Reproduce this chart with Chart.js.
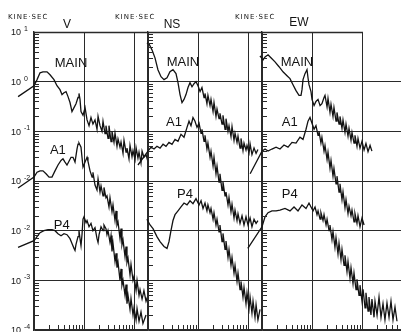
<!DOCTYPE html>
<html>
<head>
<meta charset="utf-8">
<script src="https://cdn.jsdelivr.net/npm/chart.js@4.4.1/dist/chart.umd.min.js"></script>
<style>
  html, body { margin: 0; padding: 0; background: #fff; width: 401px; height: 332px; overflow: hidden; }
  canvas { position: absolute; top: 0; }
</style>
</head>
<body>
<canvas id="panelV"  style="left:0px"   width="150" height="340"></canvas>
<canvas id="panelNS" style="left:108px" width="156" height="340"></canvas>
<canvas id="panelEW" style="left:222px" width="190" height="340"></canvas>
<script>
// Fourier spectra, [frequency Hz, amplitude kine·sec]
const vMain = [[0.048,0.50],[0.1,0.83],[0.115,1.10],[0.132,1.51],[0.151,1.58],[0.182,1.58],[0.209,1.38],[0.251,1.10],[0.288,0.83],[0.331,0.69],[0.363,0.55],[0.398,0.60],[0.437,0.63],[0.479,0.50],[0.525,0.38],[0.575,0.25],[0.631,0.30],[0.692,0.36],[0.759,0.48],[0.794,0.58],[0.832,0.44],[0.871,0.25],[0.955,0.21],[1.05,0.30],[1.15,0.17],[1.26,0.13],[1.38,0.19],[1.51,0.14],[1.66,0.17],[1.82,0.11],[1.91,0.20],[2.09,0.13],[2.29,0.10],[2.40,0.16],[2.63,0.09],[2.75,0.13],[3.02,0.072],[3.16,0.13],[3.47,0.062],[3.63,0.10],[3.98,0.060],[4.17,0.092],[4.57,0.050],[4.79,0.070],[5.25,0.048],[5.50,0.061],[6.03,0.036],[6.31,0.066],[6.92,0.038],[7.24,0.046],[7.94,0.028],[8.32,0.052],[9.12,0.031],[9.55,0.041],[10.5,0.027],[11.0,0.047],[12.0,0.029],[12.6,0.038],[13.8,0.023],[14.5,0.040],[15.8,0.030],[17.4,0.034],[19.1,0.024]];
const vA1 = [[0.048,0.0072],[0.1,0.012],[0.115,0.015],[0.132,0.016],[0.151,0.016],[0.174,0.014],[0.200,0.012],[0.229,0.012],[0.263,0.016],[0.302,0.021],[0.347,0.026],[0.380,0.028],[0.417,0.024],[0.457,0.021],[0.501,0.025],[0.550,0.030],[0.603,0.030],[0.661,0.024],[0.724,0.044],[0.759,0.055],[0.794,0.058],[0.871,0.048],[0.912,0.030],[0.955,0.019],[1.05,0.024],[1.15,0.030],[1.20,0.025],[1.32,0.016],[1.45,0.012],[1.51,0.015],[1.66,0.0083],[1.82,0.0066],[1.91,0.011],[2.09,0.0060],[2.19,0.0080],[2.40,0.0050],[2.51,0.0074],[2.75,0.0046],[2.88,0.0050],[3.16,0.0030],[3.31,0.0046],[3.63,0.0024],[3.80,0.0033],[4.17,0.0016],[4.37,0.0025],[4.57,0.0013],[4.79,0.0015],[5.25,7.0e-4],[5.50,1.1e-3],[5.75,5.2e-4],[6.03,6.5e-4],[6.61,3.0e-4],[6.92,4.8e-4],[7.24,2.3e-4],[7.59,2.8e-4],[8.32,1.3e-4],[8.71,2.1e-4],[9.55,1.0e-4],[10.0,1.2e-4],[11.0,6.3e-5],[11.5,1.0e-4],[12.6,5.0e-5],[13.2,6.5e-5],[14.5,4.2e-5],[15.8,6.2e-5],[17.4,3.8e-5],[19.1,5.0e-5]];
const vP4 = [[0.048,4.6e-3],[0.1,6.3e-3],[0.115,7.6e-3],[0.132,9.1e-3],[0.158,1.0e-2],[0.191,1.05e-2],[0.229,1.05e-2],[0.263,1.0e-2],[0.302,8.7e-3],[0.347,7.9e-3],[0.398,8.7e-3],[0.457,8.3e-3],[0.525,6.9e-3],[0.575,5.5e-3],[0.631,4.4e-3],[0.661,4.0e-3],[0.692,5.3e-3],[0.759,7.6e-3],[0.794,1.0e-2],[0.832,6.9e-3],[0.871,5.0e-3],[0.912,8.3e-3],[0.955,1.7e-2],[1.0,1.9e-2],[1.10,1.45e-2],[1.15,1.6e-2],[1.26,1.2e-2],[1.38,1.4e-2],[1.51,1.0e-2],[1.66,1.15e-2],[1.82,6.9e-3],[1.91,5.8e-3],[2.00,8.3e-3],[2.19,1.2e-2],[2.40,1.0e-2],[2.51,1.3e-2],[2.75,1.1e-2],[2.88,8.3e-3],[3.02,1.0e-2],[3.31,5.8e-3],[3.47,8.0e-3],[3.63,3.8e-3],[3.80,5.6e-3],[4.17,2.4e-3],[4.37,3.5e-3],[4.57,1.8e-3],[4.79,2.3e-3],[5.25,1.0e-3],[5.50,1.7e-3],[5.75,8.0e-4],[6.03,1.0e-3],[6.61,5.0e-4],[6.92,8.2e-4],[7.24,3.4e-4],[7.59,5.0e-4],[8.32,2.6e-4],[8.71,4.3e-4],[9.55,2.0e-4],[10.0,2.8e-4],[11.0,1.6e-4],[11.5,2.7e-4],[12.6,1.5e-4],[13.8,2.3e-4],[15.1,1.35e-4],[17.4,2.0e-4]];

const nsMain = [[0.044,2.19],[0.095,6.03],[0.105,5.75],[0.120,4.37],[0.138,3.02],[0.158,1.74],[0.182,1.26],[0.209,1.10],[0.240,1.20],[0.275,1.58],[0.316,1.74],[0.363,1.45],[0.398,0.955],[0.437,0.55],[0.479,0.38],[0.525,0.44],[0.575,0.55],[0.631,0.76],[0.692,0.955],[0.759,0.79],[0.832,0.91],[0.912,1.0],[1.0,0.83],[1.10,0.63],[1.20,0.76],[1.32,0.48],[1.38,0.58],[1.51,0.36],[1.58,0.53],[1.74,0.33],[1.82,0.44],[2.00,0.25],[2.09,0.38],[2.29,0.20],[2.40,0.28],[2.63,0.18],[2.75,0.23],[3.02,0.14],[3.16,0.21],[3.47,0.11],[3.63,0.18],[3.98,0.10],[4.17,0.13],[4.57,0.078],[4.79,0.125],[5.25,0.066],[5.50,0.092],[6.03,0.060],[6.31,0.080],[6.92,0.046],[7.24,0.072],[7.94,0.041],[8.32,0.058],[9.12,0.042],[9.55,0.052],[10.5,0.037],[11.0,0.056],[12.0,0.034],[13.2,0.046],[14.5,0.036],[15.8,0.043]];
const nsA1 = [[0.063,0.021],[0.1,0.040],[0.115,0.048],[0.132,0.044],[0.151,0.050],[0.174,0.046],[0.200,0.055],[0.229,0.050],[0.263,0.060],[0.302,0.055],[0.347,0.069],[0.398,0.063],[0.457,0.087],[0.525,0.076],[0.603,0.12],[0.661,0.16],[0.724,0.13],[0.794,0.19],[0.871,0.16],[0.955,0.12],[1.05,0.145],[1.15,0.091],[1.20,0.11],[1.32,0.063],[1.38,0.083],[1.51,0.044],[1.58,0.058],[1.74,0.030],[1.82,0.040],[2.00,0.020],[2.09,0.030],[2.29,0.014],[2.40,0.020],[2.63,0.0095],[2.75,0.014],[3.02,0.0065],[3.16,0.0095],[3.47,0.0050],[3.63,0.0060],[3.98,0.0033],[4.17,0.0047],[4.57,0.0024],[4.79,0.0034],[5.25,0.0018],[5.50,0.0026],[6.03,0.0016],[6.31,0.0022],[6.92,0.0014],[7.59,0.0020],[8.32,0.0013],[9.12,0.0019],[10.0,0.0013],[11.0,0.0018],[12.0,0.0012],[13.2,0.0017],[14.5,0.0014],[15.8,0.0016]];
const nsP4 = [[0.044,1.1e-2],[0.095,1.7e-2],[0.110,1.3e-2],[0.126,1.1e-2],[0.151,7.6e-3],[0.174,6.0e-3],[0.209,4.8e-3],[0.240,4.4e-3],[0.263,6.0e-3],[0.288,1.0e-2],[0.316,1.6e-2],[0.347,2.1e-2],[0.398,2.5e-2],[0.457,3.0e-2],[0.525,3.6e-2],[0.603,3.3e-2],[0.692,4.0e-2],[0.794,3.5e-2],[0.912,4.4e-2],[1.05,3.3e-2],[1.15,4.0e-2],[1.26,2.8e-2],[1.38,3.6e-2],[1.51,2.5e-2],[1.58,3.3e-2],[1.74,2.3e-2],[1.82,2.8e-2],[2.00,1.7e-2],[2.09,2.3e-2],[2.29,1.3e-2],[2.40,1.7e-2],[2.63,9.5e-3],[2.75,1.3e-2],[3.02,6.0e-3],[3.16,8.8e-3],[3.47,4.2e-3],[3.63,6.2e-3],[3.98,2.9e-3],[4.17,4.2e-3],[4.57,2.0e-3],[4.79,2.9e-3],[5.25,1.4e-3],[5.50,2.0e-3],[6.03,9.5e-4],[6.31,1.4e-3],[6.92,6.5e-4],[7.24,9.5e-4],[7.94,4.6e-4],[8.32,7.2e-4],[9.12,3.4e-4],[9.55,5.6e-4],[10.5,2.7e-4],[11.0,4.6e-4],[12.0,2.2e-4],[12.6,3.8e-4],[13.8,1.8e-4],[14.5,3.2e-4],[15.8,1.6e-4],[17.4,2.6e-4]];

const ewMain = [[0.046,1.0],[0.091,3.31],[0.105,2.75],[0.115,3.16],[0.132,3.47],[0.151,3.02],[0.182,2.51],[0.219,2.0],[0.263,1.58],[0.316,1.32],[0.363,1.15],[0.417,0.87],[0.479,0.66],[0.550,0.53],[0.603,0.53],[0.631,0.69],[0.661,1.1],[0.724,1.45],[0.794,1.74],[0.832,1.2],[0.871,0.87],[0.955,0.63],[1.0,0.44],[1.10,0.33],[1.20,0.40],[1.32,0.44],[1.45,0.33],[1.58,0.36],[1.74,0.48],[1.82,0.53],[2.00,0.31],[2.09,0.46],[2.29,0.24],[2.40,0.35],[2.63,0.20],[2.75,0.30],[3.02,0.16],[3.16,0.24],[3.47,0.14],[3.63,0.20],[3.98,0.115],[4.17,0.17],[4.57,0.095],[4.79,0.14],[5.25,0.080],[5.50,0.115],[6.03,0.066],[6.31,0.095],[6.92,0.058],[7.24,0.083],[7.94,0.050],[8.32,0.072],[9.12,0.046],[10.0,0.063],[11.0,0.042],[12.0,0.057],[13.2,0.039],[14.5,0.052],[15.8,0.040]];
const ewA1 = [[0.058,0.014],[0.1,0.040],[0.115,0.044],[0.132,0.040],[0.158,0.044],[0.191,0.048],[0.229,0.044],[0.275,0.053],[0.331,0.048],[0.398,0.060],[0.479,0.058],[0.575,0.076],[0.661,0.069],[0.759,0.11],[0.832,0.16],[0.912,0.19],[1.0,0.145],[1.10,0.11],[1.20,0.13],[1.32,0.083],[1.38,0.10],[1.51,0.058],[1.58,0.076],[1.74,0.040],[1.82,0.052],[2.00,0.027],[2.09,0.038],[2.29,0.018],[2.40,0.026],[2.63,0.0125],[2.75,0.018],[3.02,0.0088],[3.16,0.0125],[3.47,0.0060],[3.63,0.0088],[3.98,0.0042],[4.17,0.0061],[4.57,0.0029],[4.79,0.0042],[5.25,0.0022],[5.50,0.0031],[6.03,0.0020],[6.31,0.0026],[6.92,0.0015],[7.24,0.0022],[7.94,0.0014],[8.32,0.0020],[9.12,0.0012],[10.0,0.0018],[11.0,0.0013]];
const ewP4 = [[0.052,4.4e-3],[0.1,1.2e-2],[0.115,1.9e-2],[0.132,2.3e-2],[0.158,2.5e-2],[0.191,2.5e-2],[0.229,2.6e-2],[0.288,2.8e-2],[0.363,2.5e-2],[0.437,3.0e-2],[0.525,2.5e-2],[0.631,3.3e-2],[0.759,2.8e-2],[0.871,3.6e-2],[0.955,3.0e-2],[1.05,2.5e-2],[1.15,3.0e-2],[1.26,2.1e-2],[1.32,2.5e-2],[1.45,1.7e-2],[1.51,2.3e-2],[1.66,1.6e-2],[1.74,2.1e-2],[1.91,1.3e-2],[2.00,1.7e-2],[2.19,1.0e-2],[2.29,1.3e-2],[2.51,6.6e-3],[2.63,9.6e-3],[2.88,4.6e-3],[3.02,7.2e-3],[3.31,3.4e-3],[3.47,5.6e-3],[3.80,2.6e-3],[3.98,4.2e-3],[4.37,2.0e-3],[4.57,3.2e-3],[5.01,1.5e-3],[5.25,2.4e-3],[5.75,1.1e-3],[6.03,1.8e-3],[6.61,8.6e-4],[6.92,1.4e-3],[7.59,6.5e-4],[7.94,1.05e-3],[8.71,5.0e-4],[9.12,8.0e-4],[10.0,3.8e-4],[10.5,6.6e-4],[11.5,2.8e-4],[12.0,5.6e-4],[13.2,2.4e-4],[13.8,4.6e-4],[15.1,2.0e-4],[15.8,4.2e-4],[17.4,1.8e-4],[18.2,3.8e-4],[20.0,2.0e-4],[21.9,4.6e-4],[24.0,1.8e-4],[26.3,3.4e-4],[28.8,1.6e-4],[31.6,3.5e-4],[34.7,1.8e-4],[38.0,3.8e-4],[41.7,1.6e-4],[45.7,2.9e-4],[50.1,1.5e-4]];

// y axis: upper block 10^1..10^-2, lower block restarts at 10^-2
const yDecades = [1e1, 1e0, 1e-1, 1e-2, 1e-3, 1e-4, 1e-5];
const yExponents = ['1', '0', '-1', '-2', '-2', '-3', '-4'];
const lowerShift = 10;   // P4 is read against the lower block

const xDecades = [0.1, 1, 10, 100];
const minorSteps = [2, 3, 4, 5, 6, 7, 8, 9];

const ink = '#131313';
const gridInk = '#2a2a2a';

function isDecade(v) {
  const l = Math.log10(v);
  return Math.abs(l - Math.round(l)) < 1e-6;
}
function minors(decades) {
  const out = [];
  decades.forEach(d => minorSteps.forEach(m => out.push(d * m)));
  return out;
}
const xMinor = minors([0.1, 1, 10]);
const yMinor = minors([1e-5, 1e-4, 1e-3, 1e-2, 1e-1, 1]);

function toPoints(pairs, shift) {
  return pairs.map(p => ({ x: p[0], y: p[1] / shift }));
}

function decor(panel) {
  return {
    id: 'decor',
    afterDraw(chart) {
      const { ctx, chartArea: a, scales: { x, y } } = chart;
      ctx.save();
      ctx.strokeStyle = gridInk;
      // top frame line
      ctx.lineWidth = 1.6;
      const topEnd = panel.topTo ? x.getPixelForValue(panel.topTo) + 1 : a.right;
      ctx.beginPath();
      ctx.moveTo(a.left, a.top + 0.5); ctx.lineTo(topEnd, a.top + 0.5);
      ctx.stroke();
      // inward minor ticks on the left edge and the bottom
      ctx.lineWidth = 1;
      ctx.beginPath();
      yMinor.forEach(v => {
        const py = Math.round(y.getPixelForValue(v)) + 0.5;
        ctx.moveTo(a.left, py); ctx.lineTo(a.left + 5, py);
      });
      xMinor.forEach(v => {
        if (v > x.max) return;
        const px = Math.round(x.getPixelForValue(v)) + 0.5;
        ctx.moveTo(px, a.bottom); ctx.lineTo(px, a.bottom - 5);
      });
      ctx.stroke();

      ctx.fillStyle = ink;
      // decade labels, only on the first panel
      if (panel.yLabels) {
        yDecades.forEach((v, i) => {
          const py = y.getPixelForValue(v);
          ctx.font = '9px "Liberation Sans"';
          ctx.textAlign = 'right';
          ctx.textBaseline = 'middle';
          ctx.fillText('10', a.left - 13, py + 1);
          ctx.font = '7px "Liberation Sans"';
          ctx.textAlign = 'left';
          ctx.fillText(yExponents[i], a.left - 10, py - 3);
        });
      }
      // unit and component heading
      ctx.font = '7px "DejaVu Sans"';
      ctx.letterSpacing = '1px';
      ctx.textAlign = 'left';
      ctx.textBaseline = 'middle';
      ctx.fillText('KINE·SEC', a.left + panel.unitDx, 17);
      ctx.letterSpacing = '0px';
      ctx.font = '12px "Liberation Sans"';
      ctx.textAlign = 'center';
      ctx.fillText(panel.name, a.left + panel.nameDx, panel.nameY);
      // record names beside their curves
      ctx.font = '13px "Liberation Sans"';
      panel.labels.forEach(l => {
        ctx.fillText(l.text, x.getPixelForValue(l.f), y.getPixelForValue(l.a / (l.lower ? lowerShift : 1)));
      });
      ctx.restore();
    }
  };
}

function makePanel(id, panel) {
  const line = (pairs, shift) => ({
    data: toPoints(pairs, shift),
    borderColor: ink,
    borderWidth: 1.3,
    pointRadius: 0,
    tension: 0,
    fill: false,
    clip: { left: 24, top: 0, right: 0, bottom: 0 }
  });
  return new Chart(document.getElementById(id), {
    type: 'line',
    data: {
      datasets: [
        line(panel.main, 1),
        line(panel.a1, 1),
        line(panel.p4, lowerShift)
      ]
    },
    options: {
      responsive: false,
      animation: false,
      layout: { padding: { top: 32, right: panel.padRight, bottom: 0, left: 0 } },
      plugins: { legend: { display: false }, tooltip: { enabled: false }, title: { display: false } },
      scales: {
        x: {
          type: 'logarithmic',
          min: 0.1,
          max: panel.xMax,
          afterFit: s => { s.height = 10; },
          afterBuildTicks: s => { s.ticks = xDecades.filter(v => v <= panel.xMax).map(v => ({ value: v })); },
          ticks: { display: false },
          grid: { color: c => isDecade(c.tick.value) ? gridInk : 'rgba(0,0,0,0)', lineWidth: 1, drawTicks: false },
          border: { display: true, color: gridInk, width: 1.2 }
        },
        y: {
          type: 'logarithmic',
          min: 1e-5,
          max: 1e1,
          afterFit: s => { s.width = panel.axisWidth; },
          afterBuildTicks: s => { s.ticks = yDecades.map(v => ({ value: v })); },
          ticks: { display: false },
          // the top edge is drawn by the decor plugin
          grid: { color: c => c.tick.value >= 1e1 ? 'rgba(0,0,0,0)' : gridInk, lineWidth: 1, drawTicks: false },
          border: { display: true, color: gridInk, width: 1.4 }
        }
      }
    },
    plugins: [decor(panel)]
  });
}

makePanel('panelV', {
  main: vMain, a1: vA1, p4: vP4,
  name: 'V', nameDx: 33, nameY: 25, unitDx: -26,
  axisWidth: 34, padRight: 2, xMax: 19.05, yLabels: true,
  labels: [
    { text: 'MAIN', f: 0.55, a: 2.3 },
    { text: 'A1', f: 0.30, a: 0.042 },
    { text: 'P4', f: 0.36, a: 1.3e-2, lower: true }
  ]
});
makePanel('panelNS', {
  main: nsMain, a1: nsA1, p4: nsP4,
  name: 'NS', nameDx: 24, nameY: 25, unitDx: -33,
  axisWidth: 40, padRight: 2, xMax: 19.05, yLabels: false,
  labels: [
    { text: 'MAIN', f: 0.50, a: 2.4 },
    { text: 'A1', f: 0.33, a: 0.15 },
    { text: 'P4', f: 0.55, a: 5.3e-2, lower: true }
  ]
});
makePanel('panelEW', {
  main: ewMain, a1: ewA1, p4: ewP4,
  name: 'EW', nameDx: 37, nameY: 23, unitDx: -27,
  axisWidth: 40, padRight: 0, xMax: 100, topTo: 10, yLabels: false,
  labels: [
    { text: 'MAIN', f: 0.50, a: 2.4 },
    { text: 'A1', f: 0.36, a: 0.15 },
    { text: 'P4', f: 0.36, a: 5.3e-2, lower: true }
  ]
});
</script>
</body>
</html>
